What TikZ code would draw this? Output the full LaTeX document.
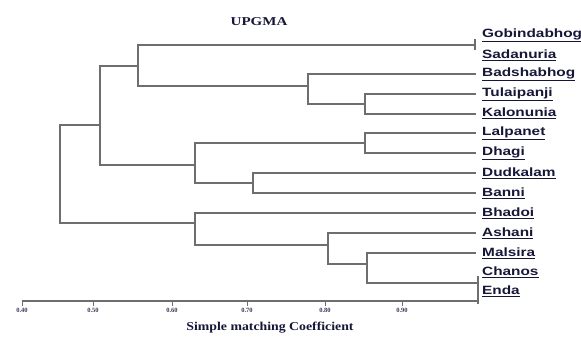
\documentclass[tikz,border=0pt]{standalone}
\usepackage{fontspec}
\setmainfont{Liberation Serif}
\newfontfamily\labfont{Liberation Sans}
\usepackage{graphicx}
\definecolor{linegray}{HTML}{6E6E6E}
\definecolor{labnavy}{HTML}{161638}
\tikzset{
  branch/.style={draw=linegray, line width=1.3pt},
  leaflab/.style={anchor=west, inner sep=0pt, text=labnavy, font=\labfont\bfseries\fontsize{12}{13}\selectfont},
  ticklab/.style={inner sep=0pt, text=labnavy!85, font=\bfseries\fontsize{6.5}{7}\selectfont},
}
\newcommand{\lab}[1]{\scalebox{1.28}[1]{\underline{#1}}}
\begin{document}
\begin{tikzpicture}[x=1pt, y=-1pt]
\useasboundingbox (0,0) rectangle (581,345);
% title
\node[text=labnavy, font=\bfseries\fontsize{12}{13}\selectfont] (title) at (259,22) {\scalebox{1.25}[1]{UPGMA}};
% leaf labels
\node[leaflab] (gob) at (482,35) {\lab{Gobindabhog}};
\node[leaflab] (sad) at (482,55) {\lab{Sadanuria}};
\node[leaflab] (bad) at (482,74) {\lab{Badshabhog}};
\node[leaflab] (tul) at (482,94) {\lab{Tulaipanji}};
\node[leaflab] (kal) at (482,113) {\lab{Kalonunia}};
\node[leaflab] (lal) at (482,133) {\lab{Lalpanet}};
\node[leaflab] (dha) at (482,153) {\lab{Dhagi}};
\node[leaflab] (dud) at (482,173) {\lab{Dudkalam}};
\node[leaflab] (ban) at (482,193) {\lab{Banni}};
\node[leaflab] (bha) at (482,213) {\lab{Bhadoi}};
\node[leaflab] (ash) at (482,233) {\lab{Ashani}};
\node[leaflab] (mal) at (482,253) {\lab{Malsira}};
\node[leaflab] (cha) at (482,272) {\lab{Chanos}};
\node[leaflab] (end) at (482,291) {\lab{Enda}};
% leaf line ends
\coordinate (lgs) at (475,45);
\coordinate (lbad) at (476,74);
\coordinate (ltul) at (476,94);
\coordinate (lkal) at (476,114);
\coordinate (llal) at (476,133);
\coordinate (ldha) at (476,153);
\coordinate (ldud) at (476,173);
\coordinate (lban) at (476,193);
\coordinate (lbha) at (476,213);
\coordinate (lash) at (476,233);
\coordinate (lmal) at (476,253);
\coordinate (lce) at (478,283);
% internal nodes
\coordinate (R) at (60,174);
\coordinate (U) at (100,125);
\coordinate (A) at (138,66);
\coordinate (P) at (308,86);
\coordinate (Q) at (365,104);
\coordinate (B) at (195,165);
\coordinate (C) at (365,143);
\coordinate (D) at (253,183);
\coordinate (E) at (195,223);
\coordinate (F) at (328,245);
\coordinate (G) at (367,264);
% branches
\draw[branch] (R) |- (U);
\draw[branch] (R) |- (E);
\draw[branch] (U) |- (A);
\draw[branch] (U) |- (B);
\draw[branch] (A) |- (lgs);
\draw[branch] (A) |- (P);
\draw[branch] (P) |- (lbad);
\draw[branch] (P) |- (Q);
\draw[branch] (Q) |- (ltul);
\draw[branch] (Q) |- (lkal);
\draw[branch] (B) |- (C);
\draw[branch] (B) |- (D);
\draw[branch] (C) |- (llal);
\draw[branch] (C) |- (ldha);
\draw[branch] (D) |- (ldud);
\draw[branch] (D) |- (lban);
\draw[branch] (E) |- (lbha);
\draw[branch] (E) |- (F);
\draw[branch] (F) |- (lash);
\draw[branch] (F) |- (G);
\draw[branch] (G) |- (lmal);
\draw[branch] (G) |- (lce);
% joins at 1.00
\draw[branch] ([yshift=-5]lgs) -- ([yshift=6]lgs);
\draw[branch] ([yshift=-11]lce) -- ([yshift=7]lce);
% axis
\coordinate (ax0) at (22,301);
\coordinate (ax1) at (478,301);
\draw[branch] (ax0) -- (ax1);
\draw[branch] ([yshift=-3]ax1) -- ([yshift=14]ax1);
\foreach \x/\v [count=\i] in {22/0.40,93/0.50,172/0.60,247/0.70,325/0.80,402/0.90}{
  \coordinate (t\i) at (\x,301);
  \draw[branch, line width=1pt] (t\i) -- ++(0,5);
  \node[ticklab] (tl\i) at (\x,310) {\v};
}
\node[text=labnavy, font=\bfseries\fontsize{12}{13}\selectfont] (axtitle) at (270,328) {\scalebox{1.15}[1]{Simple matching Coefficient}};
\end{tikzpicture}
\end{document}
